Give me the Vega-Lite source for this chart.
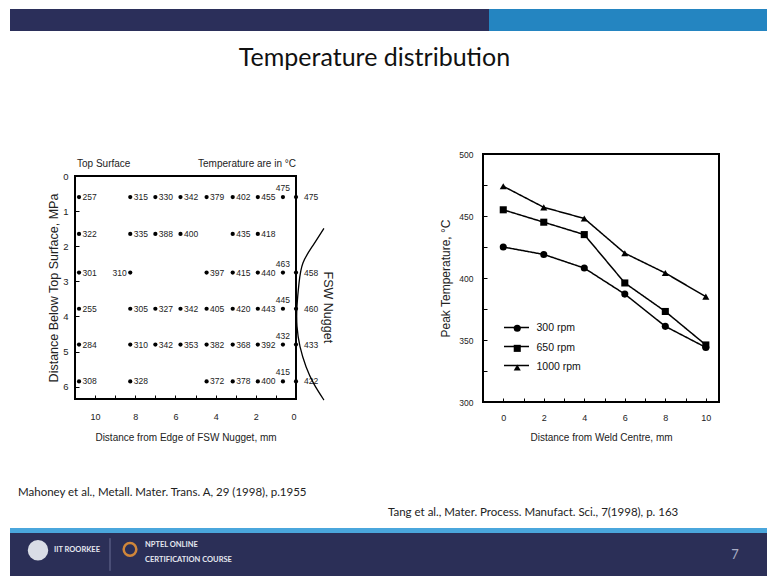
{
  "$schema": "https://vega.github.io/schema/vega-lite/v6.json",
  "background": "white",
  "padding": {"left": 10, "top": 9, "right": 0, "bottom": 0},
  "spacing": 15,
  "resolve": {"legend": {"shape": "independent", "strokeDash": "independent", "color": "independent"}},
  "config": {
    "view": {"stroke": null},
    "font": "Liberation Sans",
    "axis": {"labelFont": "Liberation Sans", "titleFont": "Liberation Sans", "labelColor": "#222", "titleColor": "#222", "grid": false, "domainColor": "#000", "tickColor": "#000", "titleFontWeight": "normal"},
    "title": {"font": "Lato", "fontWeight": "normal", "color": "#111"},
    "text": {"font": "Liberation Sans"}
  },
  "datasets": {
    "temps": [
      {"d": 10.8, "z": 0.6, "t": 257}, {"d": 8.25, "z": 0.6, "t": 315}, {"d": 7.0, "z": 0.6, "t": 330}, {"d": 5.75, "z": 0.6, "t": 342}, {"d": 4.45, "z": 0.6, "t": 379}, {"d": 3.15, "z": 0.6, "t": 402}, {"d": 1.9, "z": 0.6, "t": 455}, {"d": 0.65, "z": 0.6, "t": 475}, {"d": 0, "z": 0.6, "t": 475},
      {"d": 10.8, "z": 1.65, "t": 322}, {"d": 8.25, "z": 1.65, "t": 335}, {"d": 7.0, "z": 1.65, "t": 388}, {"d": 5.75, "z": 1.65, "t": 400}, {"d": 3.15, "z": 1.65, "t": 435}, {"d": 1.9, "z": 1.65, "t": 418},
      {"d": 10.8, "z": 2.75, "t": 301}, {"d": 8.25, "z": 2.75, "t": 310}, {"d": 4.45, "z": 2.75, "t": 397}, {"d": 3.15, "z": 2.75, "t": 415}, {"d": 1.9, "z": 2.75, "t": 440}, {"d": 0.65, "z": 2.75, "t": 463}, {"d": 0, "z": 2.75, "t": 458},
      {"d": 10.8, "z": 3.78, "t": 255}, {"d": 8.25, "z": 3.78, "t": 305}, {"d": 7.0, "z": 3.78, "t": 327}, {"d": 5.75, "z": 3.78, "t": 342}, {"d": 4.45, "z": 3.78, "t": 405}, {"d": 3.15, "z": 3.78, "t": 420}, {"d": 1.9, "z": 3.78, "t": 443}, {"d": 0.65, "z": 3.78, "t": 445}, {"d": 0, "z": 3.78, "t": 460},
      {"d": 10.8, "z": 4.8, "t": 284}, {"d": 8.25, "z": 4.8, "t": 310}, {"d": 7.0, "z": 4.8, "t": 342}, {"d": 5.75, "z": 4.8, "t": 353}, {"d": 4.45, "z": 4.8, "t": 382}, {"d": 3.15, "z": 4.8, "t": 368}, {"d": 1.9, "z": 4.8, "t": 392}, {"d": 0.65, "z": 4.8, "t": 432}, {"d": 0, "z": 4.8, "t": 433},
      {"d": 10.8, "z": 5.85, "t": 308}, {"d": 8.25, "z": 5.85, "t": 328}, {"d": 4.45, "z": 5.85, "t": 372}, {"d": 3.15, "z": 5.85, "t": 378}, {"d": 1.9, "z": 5.85, "t": 400}, {"d": 0.65, "z": 5.85, "t": 415}, {"d": 0, "z": 5.85, "t": 422}
    ],
    "nugget": [
      {"d": -1.39, "z": 1.49}, {"d": -0.84, "z": 1.98}, {"d": -0.35, "z": 2.47}, {"d": -0.15, "z": 3.05}, {"d": -0.05, "z": 3.71},
      {"d": -0.05, "z": 4.28}, {"d": -0.2, "z": 4.86}, {"d": -0.5, "z": 5.43}, {"d": -0.89, "z": 5.92}, {"d": -1.39, "z": 6.38}
    ],
    "rpm": [
      {"speed": "300 rpm", "dist": 0, "temp": 425}, {"speed": "300 rpm", "dist": 2, "temp": 419}, {"speed": "300 rpm", "dist": 4, "temp": 408}, {"speed": "300 rpm", "dist": 6, "temp": 387}, {"speed": "300 rpm", "dist": 8, "temp": 361}, {"speed": "300 rpm", "dist": 10, "temp": 344},
      {"speed": "650 rpm", "dist": 0, "temp": 455}, {"speed": "650 rpm", "dist": 2, "temp": 445}, {"speed": "650 rpm", "dist": 4, "temp": 435}, {"speed": "650 rpm", "dist": 6, "temp": 396}, {"speed": "650 rpm", "dist": 8, "temp": 373}, {"speed": "650 rpm", "dist": 10, "temp": 346},
      {"speed": "1000 rpm", "dist": 0, "temp": 474}, {"speed": "1000 rpm", "dist": 2, "temp": 457}, {"speed": "1000 rpm", "dist": 4, "temp": 448}, {"speed": "1000 rpm", "dist": 6, "temp": 420}, {"speed": "1000 rpm", "dist": 8, "temp": 404}, {"speed": "1000 rpm", "dist": 10, "temp": 385}
    ],
    "footer": [
      {"item": "IIT ROORKEE", "fx": 54, "fy": 40},
      {"item": "NPTEL ONLINE", "fx": 145, "fy": 29},
      {"item": "CERTIFICATION COURSE", "fx": 145, "fy": 62}
    ]
  },
  "vconcat": [
    {
      "width": 692, "height": 22,
      "data": {"values": [{"band": "dark", "x0": 10, "x1": 489}, {"band": "light", "x0": 489, "x1": 767}]},
      "mark": {"type": "rect"},
      "encoding": {
        "x": {"field": "x0", "type": "quantitative", "scale": {"domain": [75, 767], "nice": false, "zero": false}, "axis": null},
        "x2": {"field": "x1"},
        "color": {"field": "band", "type": "nominal", "scale": {"domain": ["dark", "light"], "range": ["#2b2f5a", "#2485c1"]}, "legend": null}
      }
    },
    {
      "spacing": 8,
      "resolve": {"legend": {"shape": "independent", "strokeDash": "independent"}},
      "vconcat": [
        {
          "title": {"text": "Temperature distribution", "fontSize": 25, "anchor": "middle", "offset": 78, "dx": 6, "color": "#111"},
          "spacing": 51,
          "resolve": {"legend": {"shape": "independent", "strokeDash": "independent"}},
          "hconcat": [
            {
              "spacing": 0,
              "vconcat": [
                {
                  "width": 221, "height": 16,
                  "data": {"values": [{"label": "Top Surface", "d": 11}, {"label": "Temperature are in °C", "d": 0}]},
                  "encoding": {
                    "x": {"field": "d", "type": "quantitative", "scale": {"domain": [0, 11], "reverse": true, "nice": false, "zero": false}, "axis": null},
                    "text": {"field": "label"}
                  },
                  "layer": [
                    {"transform": [{"filter": "datum.d > 5"}], "mark": {"type": "text", "align": "left", "baseline": "middle", "fontSize": 10, "dx": 2, "dy": 2, "color": "#222"}},
                    {"transform": [{"filter": "datum.d < 5"}], "mark": {"type": "text", "align": "right", "baseline": "middle", "fontSize": 10, "dy": 2, "color": "#222"}}
                  ]
                },
                {
                  "width": 221, "height": 223,
                  "view": {"stroke": "#000", "strokeWidth": 2},
                  "title": {"text": "Mahoney et al.,   Metall. Mater. Trans. A, 29 (1998), p.1955", "orient": "bottom", "anchor": "start", "frame": "group", "dx": -57, "offset": 45, "fontSize": 11.5, "color": "#222"},
                  "data": {"name": "temps"},
                  "encoding": {
                    "x": {"field": "d", "type": "quantitative", "scale": {"domain": [0, 11], "reverse": true, "nice": false, "zero": false},
                      "axis": {"values": [0, 1, 2, 3, 4, 5, 6, 7, 8, 9, 10], "labelExpr": "datum.value % 2 === 0 ? datum.label : ''", "tickSize": -4, "labelPadding": 17, "title": "Distance from Edge of FSW Nugget, mm", "titleFontSize": 10, "titlePadding": 11, "labelFontSize": 9, "domain": false}},
                    "y": {"field": "z", "type": "quantitative", "scale": {"domain": [0, 6.35], "reverse": true, "nice": false, "zero": false},
                      "axis": {"values": [0, 1, 2, 3, 4, 5, 6], "tickSize": -4, "labelPadding": 11, "title": "Distance Below Top Surface, MPa", "titleFontSize": 12.5, "titlePadding": 2, "labelFontSize": 9.5, "domain": false}}
                  },
                  "layer": [
                    {"mark": {"type": "circle", "size": 18, "color": "#000", "opacity": 1}},
                    {"transform": [{"filter": "datum.d > 0.7 && !(datum.d == 8.25 && datum.z == 2.75)"}], "mark": {"type": "text", "align": "left", "baseline": "middle", "dx": 3.5, "fontSize": 8.5, "color": "#222"}, "encoding": {"text": {"field": "t"}}},
                    {"transform": [{"filter": "datum.d == 0.65"}], "mark": {"type": "text", "align": "center", "baseline": "middle", "dy": -9, "fontSize": 8.5, "color": "#222"}, "encoding": {"text": {"field": "t"}}},
                    {"transform": [{"filter": "datum.d == 0"}], "mark": {"type": "text", "align": "left", "baseline": "middle", "dx": 8, "fontSize": 8.5, "color": "#222"}, "encoding": {"text": {"field": "t"}}},
                    {"transform": [{"filter": "datum.d == 8.25 && datum.z == 2.75"}], "mark": {"type": "text", "align": "right", "baseline": "middle", "dx": -3.5, "fontSize": 8.5, "color": "#222"}, "encoding": {"text": {"field": "t"}}},
                    {"data": {"name": "nugget"}, "mark": {"type": "line", "color": "#000", "strokeWidth": 1.3, "interpolate": "natural"}, "encoding": {"order": {"field": "z", "type": "quantitative"}}},
                    {"data": {"values": [{"label": "FSW Nugget", "d": -1.6, "z": 3.74}]}, "mark": {"type": "text", "angle": 90, "align": "center", "baseline": "middle", "fontSize": 12.5, "color": "#222"}, "encoding": {"text": {"field": "label"}}}
                  ]
                }
              ]
            },
            {
              "width": 236, "height": 248,
              "view": {"stroke": "#000", "strokeWidth": 2},
              "title": {"text": "Tang et al., Mater. Process. Manufact. Sci., 7(1998), p. 163", "orient": "bottom", "anchor": "start", "frame": "group", "dx": -95, "offset": 65, "fontSize": 11.5, "color": "#222"},
              "data": {"name": "rpm"},
              "encoding": {
                "x": {"field": "dist", "type": "quantitative", "scale": {"domain": [-1.0, 10.65], "nice": false, "zero": false},
                  "axis": {"values": [0, 1, 2, 3, 4, 5, 6, 7, 8, 9, 10], "labelExpr": "datum.value % 2 === 0 ? datum.label : ''", "tickSize": -4, "labelPadding": 15, "title": "Distance from Weld Centre, mm", "titleFontSize": 10, "titlePadding": 10, "labelFontSize": 9, "domain": false}},
                "y": {"field": "temp", "type": "quantitative", "scale": {"domain": [300, 500], "nice": false, "zero": false},
                  "axis": {"values": [300, 325, 350, 375, 400, 425, 450, 475, 500], "labelExpr": "datum.value % 50 === 0 ? datum.label : ''", "tickSize": -4, "labelPadding": 14, "title": "Peak Temperature, °C", "titleFontSize": 12, "titlePadding": 6, "labelFontSize": 8.5, "domain": false}}
              },
              "layer": [
                {"mark": {"type": "line", "color": "#000", "strokeWidth": 1.5},
                  "encoding": {"strokeDash": {"field": "speed", "type": "nominal", "sort": ["300 rpm", "650 rpm", "1000 rpm"], "scale": {"range": [[1, 0], [1, 0], [1, 0]]},
                    "legend": {"orient": "none", "legendX": 20, "legendY": 160, "title": null, "labelFontSize": 10.5, "labelExpr": "''", "symbolSize": 625, "symbolStrokeColor": "#000", "symbolStrokeWidth": 1.5, "symbolOpacity": 1, "rowPadding": -5.2}}}},
                {"mark": {"type": "point", "filled": true, "color": "#000", "size": 50, "opacity": 1},
                  "encoding": {"shape": {"field": "speed", "type": "nominal",
                    "scale": {"domain": ["300 rpm", "650 rpm", "1000 rpm"], "range": ["circle", "square", "triangle-up"]},
                    "legend": {"orient": "none", "legendX": 29, "legendY": 169, "title": null, "labelFontSize": 10.5, "labelColor": "#111", "symbolSize": 50, "symbolOpacity": 1, "symbolFillColor": "#000", "symbolStrokeColor": "#000", "symbolStrokeWidth": 1, "labelOffset": 14, "rowPadding": 8.1}}}}
              ]
            }
          ]
        },
        {
          "spacing": 0,
          "vconcat": [
            {
              "width": 692, "height": 5,
              "data": {"values": [{"band": "line", "x0": 10, "x1": 767}]},
              "mark": {"type": "rect", "color": "#4aa6dc"},
              "encoding": {"x": {"field": "x0", "type": "quantitative", "scale": {"domain": [75, 767], "nice": false, "zero": false}, "axis": null}, "x2": {"field": "x1"}}
            },
            {
              "width": 692, "height": 43,
              "layer": [
                {"data": {"values": [{"band": "navy", "x0": 10, "x1": 767}]}, "mark": {"type": "rect", "color": "#2b2f57"},
                  "encoding": {"x": {"field": "x0", "type": "quantitative", "scale": {"domain": [75, 767], "nice": false, "zero": false}, "axis": null}, "x2": {"field": "x1"}}},
                {"data": {"values": [{"logo": "IIT", "fx": 38, "fy": 40}]}, "mark": {"type": "circle", "size": 420, "color": "#d9dde6", "opacity": 1},
                  "encoding": {"x": {"field": "fx", "type": "quantitative", "scale": {"domain": [75, 767], "nice": false, "zero": false}, "axis": null}, "y": {"field": "fy", "type": "quantitative", "scale": {"domain": [0, 100], "reverse": true}, "axis": null}}},
                {"data": {"values": [{"logo": "NPTEL", "fx": 130, "fy": 38}]}, "mark": {"type": "point", "size": 160, "color": "#d0863a", "strokeWidth": 2.5, "opacity": 1},
                  "encoding": {"x": {"field": "fx", "type": "quantitative", "scale": {"domain": [75, 767], "nice": false, "zero": false}, "axis": null}, "y": {"field": "fy", "type": "quantitative", "scale": {"domain": [0, 100], "reverse": true}, "axis": null}}},
                {"data": {"values": [{"sep": "divider", "fx": 110, "fy": 12, "fy2": 88}]}, "mark": {"type": "rule", "color": "#6a6f95", "strokeWidth": 1},
                  "encoding": {"x": {"field": "fx", "type": "quantitative", "scale": {"domain": [75, 767], "nice": false, "zero": false}, "axis": null}, "y": {"field": "fy", "type": "quantitative", "scale": {"domain": [0, 100], "reverse": true}, "axis": null}, "y2": {"field": "fy2"}}},
                {"data": {"name": "footer"}, "mark": {"type": "text", "align": "left", "baseline": "middle", "fontSize": 7.5, "fontWeight": "bold", "color": "#e6e8f0", "font": "Lato"},
                  "encoding": {"x": {"field": "fx", "type": "quantitative", "scale": {"domain": [75, 767], "nice": false, "zero": false}, "axis": null}, "y": {"field": "fy", "type": "quantitative", "scale": {"domain": [0, 100], "reverse": true}, "axis": null}, "text": {"field": "item"}}},
                {"data": {"values": [{"page": "7", "fx": 735, "fy": 50}]}, "mark": {"type": "text", "align": "center", "baseline": "middle", "fontSize": 13, "color": "#a9adc4", "font": "Lato"},
                  "encoding": {"x": {"field": "fx", "type": "quantitative", "scale": {"domain": [75, 767], "nice": false, "zero": false}, "axis": null}, "y": {"field": "fy", "type": "quantitative", "scale": {"domain": [0, 100], "reverse": true}, "axis": null}, "text": {"field": "page"}}}
              ]
            }
          ]
        }
      ]
    }
  ]
}
